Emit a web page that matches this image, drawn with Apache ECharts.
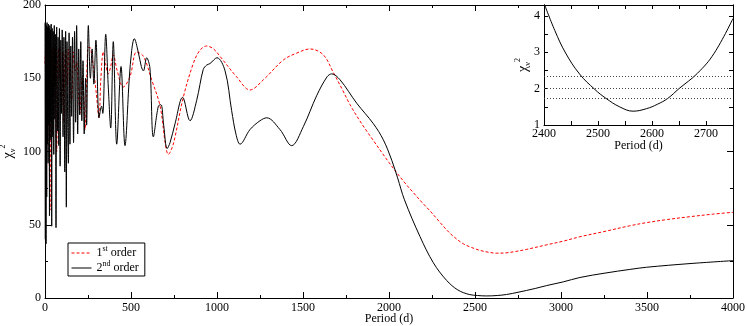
<!DOCTYPE html>
<html>
<head>
<meta charset="utf-8">
<script src="https://cdn.jsdelivr.net/npm/echarts@6/dist/echarts.min.js"></script>
<style>
  html, body { margin: 0; padding: 0; background: #fff; }
  #chart { width: 747px; height: 326px; }
</style>
</head>
<body>
<div id="chart"></div>
<script>
// 1st order fit (red dashed)
const periodsFirst = [0, 4, 8, 12, 16, 20, 25, 29, 33, 38, 43, 48, 53, 58, 63, 68, 73, 78, 83, 87,
  93, 98, 104, 110, 116, 122, 129, 136, 146, 155, 165, 175, 184, 194, 203, 215, 225, 233, 245, 252,
  262, 272, 281, 298, 314, 325, 339, 352, 368, 382, 397, 420, 455, 494, 533, 572, 620, 669, 700, 717,
  740, 756, 804, 862, 900, 940, 980, 1017, 1114, 1192, 1270, 1386, 1460, 1541, 1618, 1676, 1730, 1773,
  1830, 1870, 1909, 1960, 2000, 2045, 2100, 2141, 2190, 2238, 2290, 2335, 2380, 2432, 2480, 2529,
  2580, 2626, 2680, 2723, 2800, 2917, 3013, 3110, 3256, 3400, 3500, 3620, 3750, 3880, 4000]
const chiFirst = [160, 172, 120, 170, 140, 172, 95, 60, 150, 170, 130, 172, 145, 170, 120, 100, 160, 170, 150, 171,
  140, 132, 168, 120, 165, 170, 145, 170, 140, 135, 168, 155, 161, 140, 126, 150, 138, 115, 160, 171,
  171, 165, 158, 140, 123, 150, 168, 160, 153, 158, 166, 155, 144, 151, 168, 165, 149, 131, 105, 98,
  103, 110, 137, 160, 169, 172, 170, 165, 151, 142, 149, 162.5, 167, 170, 166, 154, 142, 132,
  121, 114, 107.5, 99, 92.5, 85.5, 77.5, 72, 65.5, 59.5, 52.5, 46.5, 41.5, 37, 34.5, 32.5,
  31.2, 30.6, 30.8, 31.5, 33.2, 36.3, 38.8, 41.8, 45.5, 49.3, 51.5, 53.6, 55.5, 57.2, 58.5]

// 2nd order fit (black)
const periodsSecond = [0, 2, 4, 6, 8, 10, 12, 14, 16, 18, 20, 22, 24, 26, 28, 30, 32, 34, 36, 39,
  42, 45, 48, 51, 54, 57, 60, 64, 68, 72, 76, 80, 84, 88, 92, 96, 100, 105, 110, 115,
  120, 124, 128, 132, 136, 140, 145, 150, 155, 160, 166, 172, 178, 184, 190, 196, 202, 208, 214, 221,
  228, 236, 242, 252, 264, 274, 284, 296, 314, 322, 329, 336, 353, 368, 382, 397, 417, 442, 465, 490,
  504, 519, 542, 560, 572, 591, 610, 630, 659, 674, 690, 710, 727, 756, 800, 843, 882, 920, 940, 959,
  1000, 1047, 1085, 1110, 1134, 1192, 1250, 1289, 1366, 1434, 1502, 1579, 1640, 1667, 1715, 1812, 1909, 1967, 2016, 2050,
  2090, 2180, 2258, 2335, 2400, 2466, 2515, 2565, 2629, 2684, 2750, 2850, 2917, 3013, 3110, 3256, 3400, 3498, 3750, 4000]
const chiSecond = [188, 40, 187, 37, 186, 69, 188, 105, 185, 92, 187, 118, 184, 56, 186, 108, 183, 120, 187, 49,
  184, 110, 182, 98, 186, 122, 180, 48, 185, 114, 178, 104, 184, 90, 176, 126, 183, 110, 178, 86,
  182, 62, 175, 118, 92, 181, 105, 172, 124, 178, 106, 182, 120, 186, 112, 170, 125, 175, 121, 162,
  112, 150, 118, 186, 150, 170, 146, 176, 123, 128, 131, 126, 180, 144, 116, 175, 105, 158, 104, 150,
  169, 177, 168, 158, 155, 164, 157, 110, 131, 132, 118, 102, 106, 119, 137, 121, 135, 156, 159, 160,
  164, 155, 128, 112, 105, 115, 121, 123, 115, 104, 117, 138, 151, 153, 149, 133, 119, 108, 94, 82,
  67, 42, 24, 12, 5.5, 2.4, 1.7, 1.4, 1.7, 2.4, 3.9, 6.5, 8.5, 11, 14, 17, 19.5, 21, 23.5, 25.5]

// inset: zoom on the 2nd order minimum
const insetPeriods = [2400, 2420, 2440, 2466, 2494, 2515, 2540, 2565, 2590, 2610, 2629, 2650, 2684, 2715, 2750]
const insetChi = [4.35, 3.6, 2.98, 2.4, 1.98, 1.73, 1.5, 1.38, 1.45, 1.57, 1.73, 2.0, 2.42, 2.97, 3.93]
const insetLevels = [1.73, 2.0, 2.34]

const xTicks = { min: 0, max: 4000, interval: 500 }
const yTicks = { min: 0, max: 200, interval: 50 }

const font = 'Liberation Serif'
const zip = (xs, ys) => xs.map((x, i) => [x, ys[i]])

function axis(extra) {
  return Object.assign({
    type: 'value',
    nameMoveOverlap: false,
    axisLine: { onZero: false, lineStyle: { color: '#000', width: 1 } },
    axisTick: { inside: true, length: 6, lineStyle: { color: '#000' } },
    minorTick: { show: true, splitNumber: 2, length: 3, lineStyle: { color: '#000' } },
    splitLine: { show: false },
    axisLabel: { color: '#000', fontFamily: font, fontSize: 12, margin: 4, formatter: v => String(v) }
  }, extra)
}

const chiName = '{c|χ}{s|ν}{p|2}'
const chiRich = {
  c: { fontFamily: font, fontSize: 14, lineHeight: 18, color: '#000' },
  s: { fontFamily: font, fontSize: 8, lineHeight: 8, verticalAlign: 'bottom', color: '#000' },
  p: { fontFamily: font, fontSize: 8, lineHeight: 8, verticalAlign: 'top', color: '#000' }
}

const chart = echarts.init(document.getElementById('chart'))
chart.setOption({
  animation: false,
  backgroundColor: '#fff',
  grid: [
    { left: 45, right: 14, top: 5, bottom: 28, containLabel: false, outerBoundsMode: 'none' },
    { left: 544, right: 14, top: 5, height: 120, containLabel: false, outerBoundsMode: 'none',
      show: true, backgroundColor: '#fff', borderWidth: 0, z: 10 }
  ],
  legend: {
    left: 68, top: 243, orient: 'vertical',
    data: ['1st order', '2nd order'],
    itemWidth: 20, itemHeight: 10, itemGap: 1,
    borderColor: '#000', borderWidth: 1, borderRadius: 0,
    padding: [2, 6, 2, 3],
    itemStyle: { opacity: 0 },
    lineStyle: { width: 1 },
    textStyle: {
      fontFamily: font, fontSize: 12, color: '#000',
      rich: {
        n: { fontFamily: font, fontSize: 12, lineHeight: 16, color: '#000' },
        s: { fontFamily: font, fontSize: 8, lineHeight: 9, verticalAlign: 'top', color: '#000' }
      }
    },
    formatter: name => {
      const p = name.split(' ')
      const num = p[0].slice(0, 1), suf = p[0].slice(1)
      return '{n|' + num + '}{s|' + suf + '}{n| ' + p[1] + '}'
    }
  },
  xAxis: [
    axis(Object.assign({ gridIndex: 0, position: 'bottom', name: 'Period (d)', nameLocation: 'middle', nameGap: 15,
      nameTextStyle: { fontFamily: font, fontSize: 12, color: '#000' } }, xTicks)),
    axis(Object.assign({ gridIndex: 0, position: 'top', axisLabel: { show: false } }, xTicks)),
    axis({ gridIndex: 1, position: 'bottom', min: 2400, max: 2750, interval: 50, z: 11,
      minorTick: { show: false }, axisTick: { inside: true, length: 4, lineStyle: { color: '#000' } },
      axisLabel: { color: '#000', fontFamily: font, fontSize: 12, margin: 3, showMaxLabel: false,
        formatter: v => (v % 100 === 0 ? String(v) : '') },
      name: 'Period (d)', nameLocation: 'middle', nameGap: 15,
      nameTextStyle: { fontFamily: font, fontSize: 12, color: '#000' } }),
    axis({ gridIndex: 1, position: 'top', min: 2400, max: 2750, interval: 50, z: 11,
      minorTick: { show: false }, axisTick: { inside: true, length: 4, lineStyle: { color: '#000' } },
      axisLabel: { show: false } })
  ],
  yAxis: [
    axis(Object.assign({ gridIndex: 0, position: 'left', name: chiName, nameLocation: 'middle', nameGap: 28, nameRotate: 90,
      nameTextStyle: { rich: chiRich } }, yTicks)),
    axis(Object.assign({ gridIndex: 0, position: 'right', axisLabel: { show: false } }, yTicks)),
    axis({ gridIndex: 1, position: 'left', min: 1, max: 4.3, interval: 0.5, z: 11,
      minorTick: { show: false }, axisTick: { inside: true, length: 4, lineStyle: { color: '#000' } },
      axisLabel: { color: '#000', fontFamily: font, fontSize: 12, margin: 4, showMaxLabel: false,
        formatter: v => (Number.isInteger(v) ? String(v) : '') },
      name: chiName, nameLocation: 'middle', nameGap: 12, nameRotate: 90,
      nameTextStyle: { rich: chiRich } }),
    axis({ gridIndex: 1, position: 'right', min: 1, max: 4.3, interval: 0.5, z: 11,
      minorTick: { show: false }, axisTick: { inside: true, length: 4, lineStyle: { color: '#000' } },
      axisLabel: { show: false } })
  ],
  series: [
    {
      name: '1st order', type: 'line', xAxisIndex: 0, yAxisIndex: 0,
      data: zip(periodsFirst, chiFirst),
      symbol: 'none', smooth: 0.35,
      lineStyle: { color: '#ff0000', width: 1, type: [3, 2] },
      itemStyle: { color: '#ff0000' }, z: 2
    },
    {
      name: '2nd order', type: 'line', xAxisIndex: 0, yAxisIndex: 0,
      data: zip(periodsSecond, chiSecond),
      symbol: 'none', smooth: 0.35,
      lineStyle: { color: '#000', width: 1 },
      itemStyle: { color: '#000' }, z: 3
    },
    {
      name: 'inset', type: 'line', xAxisIndex: 2, yAxisIndex: 2,
      data: zip(insetPeriods, insetChi),
      symbol: 'none', smooth: 0.4,
      lineStyle: { color: '#000', width: 1 },
      z: 12,
      markLine: {
        silent: true, symbol: 'none', label: { show: false }, z: 13,
        lineStyle: { color: '#444', width: 1, type: [1, 2] },
        data: insetLevels.map(v => ({ yAxis: v }))
      }
    }
  ]
})
</script>
</body>
</html>
